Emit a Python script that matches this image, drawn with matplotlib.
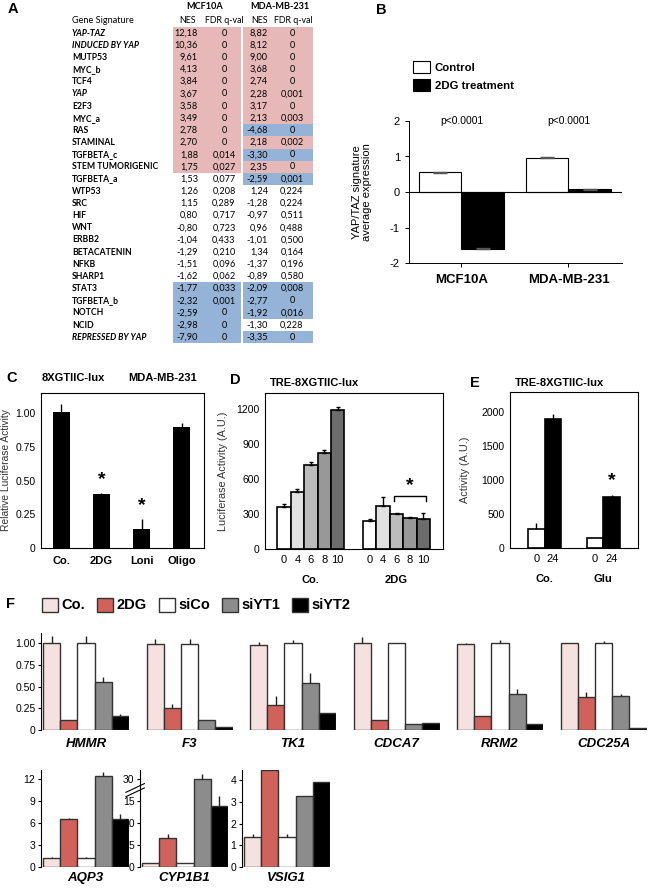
#!/usr/bin/env python3
import numpy as np
import matplotlib
matplotlib.use("Agg")
from matplotlib import pyplot as plt
from matplotlib.patches import Rectangle, Patch

plt.rcParams['font.family'] = ['Liberation Sans', 'DejaVu Sans']
plt.rcParams['axes.unicode_minus'] = False

W, H = 648, 888

# ---- A: GSEA table
gene_sets = ["YAP-TAZ", "INDUCED BY YAP", "MUTP53", "MYC_b", "TCF4", "YAP", "E2F3",
             "MYC_a", "RAS", "STAMINAL", "TGFBETA_c", "STEM TUMORIGENIC", "TGFBETA_a",
             "WTP53", "SRC", "HIF", "WNT", "ERBB2", "BETACATENIN", "NFKB", "SHARP1",
             "STAT3", "TGFBETA_b", "NOTCH", "NCID", "REPRESSED BY YAP"]
italic_sets = ["YAP-TAZ", "INDUCED BY YAP", "YAP", "REPRESSED BY YAP"]
mcf_nes = [12.18, 10.36, 9.61, 4.13, 3.84, 3.67, 3.58, 3.49, 2.78, 2.70, 1.88, 1.75, 1.53,
           1.26, 1.15, 0.80, -0.80, -1.04, -1.29, -1.51, -1.62, -1.77, -2.32, -2.59, -2.98, -7.90]
mcf_fdr = [0, 0, 0, 0, 0, 0, 0, 0, 0, 0, 0.014, 0.027, 0.077,
           0.208, 0.289, 0.717, 0.723, 0.433, 0.210, 0.096, 0.062, 0.033, 0.001, 0, 0, 0]
mda_nes = [8.82, 8.12, 9.00, 3.68, 2.74, 2.28, 3.17, 2.13, -4.68, 2.18, -3.30, 2.35, -2.59,
           1.24, -1.28, -0.97, 0.96, -1.01, 1.34, -1.37, -0.89, -2.09, -2.77, -1.92, -1.30, -3.35]
mda_fdr = [0, 0, 0, 0, 0, 0.001, 0, 0.003, 0, 0.002, 0, 0, 0.001,
           0.224, 0.224, 0.511, 0.488, 0.500, 0.164, 0.196, 0.580, 0.008, 0, 0.016, 0.228, 0]

# ---- B: signature average expression
b_lines = ["MCF10A", "MDA-MB-231"]
b_control = [0.55, 0.97]
b_2dg = [-1.60, 0.08]
b_pvals = ["p<0.0001", "p<0.0001"]

# ---- C: 8XGTIIC-lux MDA-MB-231
c_labels = ["Co.", "2DG", "Loni", "Oligo"]
c_vals = [1.01, 0.40, 0.14, 0.90]
c_err = [0.06, 0.005, 0.075, 0.03]
c_signif = [False, True, True, False]

# ---- D: TRE-8XGTIIC-lux, doses
d_doses = ["0", "4", "6", "8", "10"]
d_co = [360, 489, 720, 823, 1191]
d_co_err = [30, 30, 30, 30, 25]
d_2dg = [240, 369, 297, 266, 258]
d_2dg_err = [20, 75, 10, 10, 50]

# ---- E: TRE-8XGTIIC-lux, Co. vs Glu
e_groups = ["Co.", "Glu"]
e_times = ["0", "24"]
e_0h = [285, 150]
e_0h_err = [80, 0]
e_24h = [1897, 750]
e_24h_err = [85, 30]

# ---- F: qPCR
f_conditions = ["Co.", "2DG", "siCo", "siYT1", "siYT2"]
f_top_genes = ["HMMR", "F3", "TK1", "CDCA7", "RRM2", "CDC25A"]
f_top_vals = [[1.00, 0.12, 1.00, 0.55, 0.16],
              [0.99, 0.25, 0.99, 0.11, 0.03],
              [0.98, 0.29, 1.00, 0.54, 0.20],
              [1.00, 0.11, 1.00, 0.07, 0.08],
              [0.99, 0.16, 1.00, 0.41, 0.07],
              [1.00, 0.38, 1.00, 0.39, 0.02]]
f_top_err = [[0.09, 0.00, 0.09, 0.06, 0.02],
             [0.06, 0.05, 0.06, 0.00, 0.00],
             [0.04, 0.10, 0.04, 0.12, 0.00],
             [0.07, 0.00, 0.01, 0.00, 0.00],
             [0.01, 0.00, 0.04, 0.06, 0.00],
             [0.00, 0.06, 0.03, 0.02, 0.00]]
aqp3 = [1.25, 6.6, 1.2, 12.5, 6.6]
aqp3_err = [0.15, 0.1, 0.15, 0.5, 0.7]
cyp1b1 = [1.0, 6.6, 1.0, 30.0, 13.9]
cyp1b1_err = [0.0, 0.8, 0.0, 3.0, 4.4]
vsig1 = [1.38, 4.45, 1.38, 3.25, 3.9]
vsig1_err = [0.12, 0.05, 0.15, 0.0, 0.03]

f_colors = ["#f5e1df", "#d1625b", "white", "#8c8c8c", "black"]
dose_colors = ["white", "#e2e2e2", "#bcbcbc", "#989898", "#6c6c6c"]

fig = plt.figure(figsize=(W / 100, H / 100), dpi=100)


def px_axes(left, top, right, bottom):
    return fig.add_axes([left / W, 1 - bottom / H, (right - left) / W, (bottom - top) / H])


def ftext(x, y, s, **kw):
    fig.text(x / W, 1 - y / H, s, **kw)


def fmt_nes(v):
    return f"{v:.2f}".replace('.', ',')


def fmt_fdr(v):
    return "0" if v == 0 else f"{v:.3f}".replace('.', ',')


for lab, x, y in [("A", 8, 9), ("B", 376, 10), ("C", 6, 378), ("D", 230, 380),
                  ("E", 470, 383), ("F", 6, 604)]:
    ftext(x, y, lab, fontsize=10.5, fontweight='bold', va='center')

# ================= A
axA = px_axes(0, 0, 320, 345)
axA.set_xlim(0, 320)
axA.set_ylim((345 - 33) / 12.17, -33 / 12.17)
axA.axis('off')
pink, blue = "#e6b9b8", "#95b3d7"
tab_font = ['Lato', 'DejaVu Sans']
for i, name in enumerate(gene_sets):
    for nes, fdr, x0, w in [(mcf_nes[i], mcf_fdr[i], 173, 68), (mda_nes[i], mda_fdr[i], 243, 70)]:
        if fdr < 0.05:
            axA.add_patch(Rectangle((x0, i - 0.5), w, 1, facecolor=pink if nes > 0 else blue,
                                    edgecolor='none'))
    axA.text(72, i, name, fontsize=6.2, fontweight='bold', family=tab_font,
             fontstyle='italic' if name in italic_sets else 'normal', va='center')
    axA.text(198, i, fmt_nes(mcf_nes[i]), fontsize=6.6, family=tab_font, ha='right', va='center')
    axA.text(224, i, fmt_fdr(mcf_fdr[i]), fontsize=6.6, family=tab_font, ha='center', va='center')
    axA.text(268, i, fmt_nes(mda_nes[i]), fontsize=6.6, family=tab_font, ha='right', va='center')
    axA.text(292, i, fmt_fdr(mda_fdr[i]), fontsize=6.6, family=tab_font, ha='center', va='center')
axA.text(72, -1, "Gene Signature", fontsize=6.6, family=tab_font, va='center')
for x, s in [(188, "NES"), (224, "FDR q-val"), (260, "NES"), (293, "FDR q-val")]:
    axA.text(x, -1, s, fontsize=6.4, family=tab_font, ha='center', va='center')
axA.text(205, -2.2, "MCF10A", fontsize=6.6, family=tab_font, fontweight='bold', ha='center', va='center')
axA.text(280, -2.2, "MDA-MB-231", fontsize=6.6, family=tab_font, fontweight='bold', ha='center', va='center')

# ================= B
axB = px_axes(409, 121, 622, 263)
xb = np.arange(len(b_lines))
bc = axB.bar(xb - 0.2, b_control, 0.4, color='white', edgecolor='black', lw=0.8,
             yerr=0.01, error_kw=dict(ecolor='#555555', elinewidth=0.6, capsize=5))
bd = axB.bar(xb + 0.2, b_2dg, 0.4, color='black', edgecolor='black', lw=0.8,
             yerr=0.01, error_kw=dict(ecolor='#555555', elinewidth=0.6, capsize=5))
axB.axhline(0, color='black', lw=0.8)
axB.set_xlim(-0.49, 1.5)
axB.set_ylim(-2, 2)
axB.set_yticks([-2, -1, 0, 1, 2])
axB.set_xticks(xb)
axB.set_xticklabels(b_lines, fontsize=9.5, fontweight='bold')
axB.tick_params(axis='y', labelsize=8, length=3, width=0.7)
axB.tick_params(axis='x', length=3, width=0.7, pad=5)
for s in ['top', 'right']:
    axB.spines[s].set_visible(False)
for s in ['left', 'bottom']:
    axB.spines[s].set_linewidth(0.7)
for i, p in enumerate(b_pvals):
    axB.text(xb[i], 2, p, fontsize=7.4, ha='center', va='center')
axB.set_ylabel("YAP/TAZ signature\naverage expression", fontsize=8, linespacing=1.0)
axB.yaxis.set_label_coords(-(409 - 372) / 213, 0.5)
fig.legend([bc, bd], ["Control", "2DG treatment"], loc='upper left',
           bbox_to_anchor=(413 / W, 1 - 61 / H), frameon=False, borderpad=0, borderaxespad=0,
           handlelength=1.5, handleheight=1.3, handletextpad=0.4, labelspacing=0.45,
           prop=dict(weight='bold', size=8.2))

# ================= C
axC = px_axes(41, 393, 204, 548)
xc = np.arange(len(c_labels))
axC.bar(xc, c_vals, 0.42, color='black',
        yerr=[np.zeros(len(c_err)), c_err], error_kw=dict(ecolor='black', elinewidth=1, capsize=0))
for i, sig in enumerate(c_signif):
    if sig:
        axC.text(xc[i], c_vals[i] + c_err[i] + 0.04, "*", fontsize=14, fontweight='bold',
                 ha='center', va='bottom')
axC.set_xlim(-0.5, 3.55)
axC.set_ylim(0, 1.15)
axC.set_yticks([0, 0.25, 0.5, 0.75, 1.0])
axC.set_yticklabels(["0", "0.25", "0.50", "0.75", "1.00"])
axC.set_xticks(xc)
axC.set_xticklabels(c_labels, fontsize=8, fontweight='bold')
axC.tick_params(labelsize=7.5, length=0, pad=4)
axC.tick_params(axis='x', labelsize=8, pad=6)
axC.set_ylabel("Relative Luciferase Activity", fontsize=7.4, color='#333333')
axC.yaxis.set_label_coords(-0.185, 0.5)
ftext(42, 378, "8XGTIIC-lux", fontsize=8, fontweight='bold', va='center')
ftext(128, 378, "MDA-MB-231", fontsize=8, fontweight='bold', va='center')

# ================= D
axD = px_axes(265, 393, 443, 549)
xd_co = np.arange(len(d_doses))
xd_2dg = xd_co + 6.4
axD.bar(xd_co, d_co, 1.0, color=dose_colors, edgecolor='black', lw=1.2,
        yerr=[np.zeros(5), d_co_err], error_kw=dict(ecolor='black', elinewidth=1, capsize=1.5))
axD.bar(xd_2dg, d_2dg, 1.0, color=dose_colors, edgecolor='black', lw=1.2,
        yerr=[np.zeros(5), d_2dg_err], error_kw=dict(ecolor='black', elinewidth=1, capsize=1.5))
axD.plot([xd_2dg[2] - 0.2, xd_2dg[2] - 0.2, xd_2dg[4] + 0.2, xd_2dg[4] + 0.2],
         [410, 455, 455, 410], color='black', lw=1)
axD.text(xd_2dg[3], 470, "*", fontsize=14, fontweight='bold', ha='center', va='bottom')
axD.set_xlim(-1.42, 11.87)
axD.set_ylim(0, 1340)
axD.set_yticks([0, 300, 600, 900, 1200])
axD.set_xticks(np.concatenate([xd_co, xd_2dg]))
axD.set_xticklabels(d_doses + d_doses)
axD.tick_params(labelsize=7.5, length=0, pad=4)
axD.tick_params(axis='x', labelsize=8)
for i, g in enumerate(["Co.", "2DG"]):
    axD.text([xd_co, xd_2dg][i].mean(), -0.2, g, transform=axD.get_xaxis_transform(),
             fontsize=8, fontweight='bold', ha='center', va='center')
axD.set_ylabel("Luciferase Activity (A.U.)", fontsize=7.8, color='#333333')
axD.yaxis.set_label_coords(-0.21, 0.5)
ftext(270, 383, "TRE-8XGTIIC-lux", fontsize=8, fontweight='bold', va='center')

# ================= E
axE = px_axes(510, 392, 638, 548)
xe = np.array([0, 3.55])
axE.bar(xe, e_0h, 1.0, color='white', edgecolor='black', lw=1.2,
        yerr=[np.zeros(2), e_0h_err], error_kw=dict(ecolor='black', elinewidth=1, capsize=0))
axE.bar(xe + 1, e_24h, 1.0, color='black', edgecolor='black', lw=1.2,
        yerr=[np.zeros(2), e_24h_err], error_kw=dict(ecolor='black', elinewidth=1, capsize=0))
axE.text(xe[1] + 1, e_24h[1] + e_24h_err[1] + 90, "*", fontsize=14, fontweight='bold',
         ha='center', va='bottom')
axE.set_xlim(-1.6, 6.15)
axE.set_ylim(0, 2300)
axE.set_yticks([0, 500, 1000, 1500, 2000])
axE.set_xticks(np.concatenate([xe, xe + 1]))
axE.set_xticklabels([e_times[0]] * 2 + [e_times[1]] * 2)
axE.tick_params(labelsize=7.5, length=0, pad=4)
axE.tick_params(axis='x', labelsize=8)
for i, g in enumerate(e_groups):
    axE.text(xe[i] + 0.5, -0.2, g, transform=axE.get_xaxis_transform(),
             fontsize=8, fontweight='bold', ha='center', va='center')
axE.set_ylabel("Activity (A.U.)", fontsize=7.8, color='#333333')
axE.yaxis.set_label_coords(-0.31, 0.5)
ftext(515, 383, "TRE-8XGTIIC-lux", fontsize=8, fontweight='bold', va='center')

# ================= F
handles = [Patch(facecolor=c, edgecolor='#333333', lw=1) for c in f_colors]
fig.legend(handles, f_conditions, loc='center left', bbox_to_anchor=(42 / W, 1 - 605 / H),
           ncol=5, frameon=False, borderpad=0, borderaxespad=0, handlelength=1.1,
           handleheight=1.1, handletextpad=0.25, columnspacing=0.8,
           prop=dict(weight='bold', size=10.5))

xf = np.arange(len(f_conditions))
for g, gene in enumerate(f_top_genes):
    left = 41 + g * 103.5
    ax = px_axes(left, 633, left + 88, 730)
    ax.bar(xf, f_top_vals[g], 1.0, color=f_colors, edgecolor='#333333', lw=1,
           yerr=[np.zeros(5), f_top_err[g]], error_kw=dict(ecolor='#222222', elinewidth=1, capsize=0))
    ax.set_xlim(-0.62, 4.5)
    ax.set_ylim(0, 1.12)
    ax.set_xticks([])
    for s in ['top', 'right', 'bottom']:
        ax.spines[s].set_visible(False)
    if g == 0:
        ax.set_yticks([0, 0.25, 0.5, 0.75, 1.0])
        ax.set_yticklabels(["0", "0.25", "0.50", "0.75", "1.00"])
        ax.tick_params(labelsize=7.5, length=2, width=0.8, pad=2)
        ax.spines['left'].set_linewidth(0.8)
    else:
        ax.set_yticks([])
        ax.spines['left'].set_visible(False)
    ax.text(2, -0.14, gene, transform=ax.get_xaxis_transform(), fontsize=9.5,
            fontweight='bold', fontstyle='italic', ha='center', va='center')


def brk_fwd(y):
    y = np.asarray(y, dtype=float)
    return np.where(y <= 15, y, 15 + (y - 15) / 3)


def brk_inv(y):
    y = np.asarray(y, dtype=float)
    return np.where(y <= 15, y, 15 + (y - 15) * 3)


bottom_sets = [("AQP3", aqp3, aqp3_err, 41, 13.3, [0, 3, 6, 9, 12]),
               ("CYP1B1", cyp1b1, cyp1b1_err, 140, 36, [0, 5, 10, 15, 30]),
               ("VSIG1", vsig1, vsig1_err, 242, 4.46, [0, 1, 2, 3, 4])]
for gene, vals, err, left, top, ticks in bottom_sets:
    ax = px_axes(left, 770, left + 88, 867)
    if gene == "CYP1B1":
        ax.set_yscale('function', functions=(brk_fwd, brk_inv))
    ax.bar(xf + 0.12, vals, 1.0, color=f_colors, edgecolor='#333333', lw=1,
           yerr=[np.zeros(5), err], error_kw=dict(ecolor='#222222', elinewidth=1, capsize=0))
    ax.set_xlim(-0.5, 4.62)
    ax.set_ylim(0, top)
    ax.set_xticks([])
    ax.set_yticks(ticks)
    ax.set_yticklabels([str(t) for t in ticks])
    ax.tick_params(labelsize=7.5, length=2, width=0.8, pad=2)
    ax.yaxis.set_minor_locator(matplotlib.ticker.NullLocator())
    for s in ['top', 'right', 'bottom']:
        ax.spines[s].set_visible(False)
    ax.spines['left'].set_linewidth(0.8)
    ax.text(2.1, -0.11, gene, transform=ax.get_xaxis_transform(), fontsize=9.5,
            fontweight='bold', fontstyle='italic', ha='center', va='center')
    if gene == "CYP1B1":
        for dy in [0, -0.045]:
            ax.plot([-0.16, 0.05], [0.77 + dy, 0.86 + dy], transform=ax.transAxes,
                    color='black', lw=0.8, clip_on=False)

fig.savefig("out.png", dpi=100)
